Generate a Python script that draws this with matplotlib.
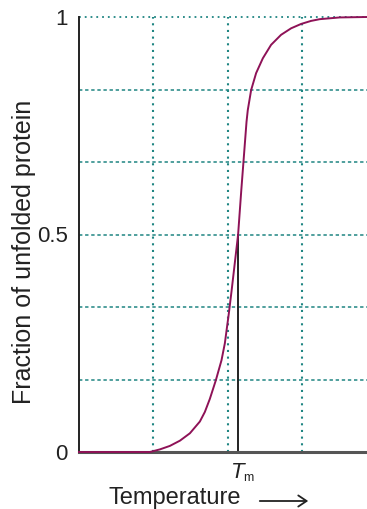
import matplotlib
matplotlib.use('Agg')
import matplotlib.pyplot as plt

# temperature in grid units (one vertical gridline per unit)
temperature = [0.0, 0.953, 1.087, 1.221, 1.356, 1.490, 1.624, 1.691, 1.758, 1.839,
               1.915, 1.960, 1.991, 2.013, 2.050, 2.094, 2.138, 2.180, 2.210,
               2.251, 2.268, 2.313, 2.380, 2.470, 2.581, 2.715, 2.850, 2.984,
               3.118, 3.235, 3.503, 3.87]
fraction_unfolded = [0.0, 0.0, 0.006, 0.014, 0.026, 0.043, 0.07, 0.092, 0.122, 0.165,
                     0.211, 0.25, 0.29, 0.318, 0.37, 0.435, 0.5, 0.6, 0.667,
                     0.759, 0.786, 0.832, 0.871, 0.905, 0.936, 0.959, 0.974, 0.984,
                     0.991, 0.995, 0.999, 1.0]
tm = 2.138
tm_fraction = 0.5
y_ticks = [0, 0.5, 1]
y_tick_labels = ['0', '0.5', '1']
h_grid = [1 / 6, 2 / 6, 3 / 6, 4 / 6, 5 / 6]
v_grid = [1, 2, 3]

plt.rcParams['font.family'] = ['Liberation Sans', 'DejaVu Sans']
grid_col = '#1f8582'
curve_col = '#8e1257'

fig = plt.figure(figsize=(3.67, 5.09), dpi=100)
ax = fig.add_axes([79 / 367, 57 / 509, 288 / 367, 435 / 509])

# grid
for y in h_grid:
    ax.axhline(y, color=grid_col, lw=1.1, ls=(0, (2.2, 1.8)), zorder=1)
ax.axhline(1, color=grid_col, lw=1.3, ls=(0, (1, 2.2)), zorder=1, clip_on=False)
for x in v_grid:
    ax.axvline(x, color=grid_col, lw=1.5, ls=(0, (1, 2.2)), zorder=1)

# Tm marker line
ax.plot([tm, tm], [0, tm_fraction], color='#222222', lw=1.4, zorder=2)

# melting curve
ax.plot(temperature, fraction_unfolded, color=curve_col, lw=1.4, zorder=3,
        clip_on=False, solid_joinstyle='round', antialiased=True)

ax.set_xlim(0, 3.87)
ax.set_ylim(0, 1)
ax.set_xticks([])
ax.set_yticks(y_ticks)
ax.set_yticklabels(y_tick_labels, fontsize=16, color='#222222')
ax.tick_params(axis='y', length=0, pad=8)

for s in ['top', 'right']:
    ax.spines[s].set_visible(False)
ax.spines['left'].set_color('#222222')
ax.spines['left'].set_linewidth(1.4)
ax.spines['bottom'].set_color('#555555')
ax.spines['bottom'].set_linewidth(2.2)

# Tm label under the axis
ax.annotate('T', xy=(tm, 0), xycoords=('data', 'axes fraction'),
            xytext=(-0.5, -7.5), textcoords='offset points', ha='center', va='top',
            fontsize=16, style='italic', color='#222222')
ax.annotate('m', xy=(tm, 0), xycoords=('data', 'axes fraction'),
            xytext=(7.5, -14.5), textcoords='offset points', ha='center', va='top',
            fontsize=9, color='#222222')

fig.text(0.477, 0.0216, 'Temperature', ha='center', va='center', fontsize=17, color='#222222')
fig.text(0.066, 0.505, 'Fraction of unfolded protein', ha='center', va='center',
         rotation=90, fontsize=18, color='#222222')
fig.add_artist(matplotlib.patches.FancyArrowPatch(
    (257 / 367, 1 - 501 / 509), (311 / 367, 1 - 501 / 509),
    transform=fig.transFigure, arrowstyle='->,head_length=6,head_width=4',
    color='#222222', lw=1.3, mutation_scale=1))

fig.savefig('out.png', dpi=100)
